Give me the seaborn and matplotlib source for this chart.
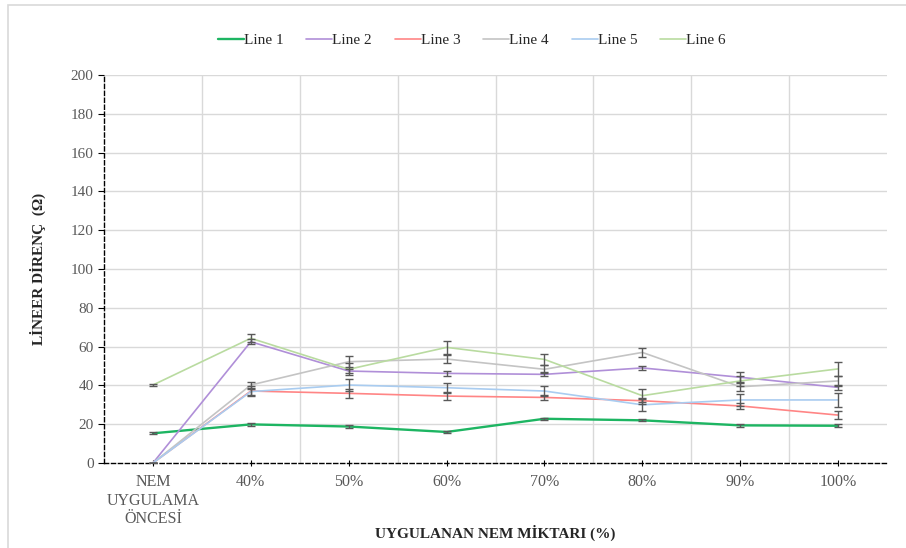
import numpy as np
import pandas as pd
import matplotlib
matplotlib.use('Agg')
import matplotlib.pyplot as plt
import seaborn as sns
from matplotlib.patches import Rectangle

# categories on the x axis
categories = ['NEM\nUYGULAMA\nÖNCESİ', '40%', '50%', '60%', '70%', '80%', '90%', '100%']
series_names = ['Line 1', 'Line 2', 'Line 3', 'Line 4', 'Line 5', 'Line 6']

# mean values
line1 = [15.3, 19.9, 18.8, 16.0, 22.8, 22.0, 19.4, 19.2]
line2 = [0, 62.5, 47.4, 46.2, 45.7, 49.0, 44.2, 39.0]
line3 = [0, 37.1, 35.9, 34.5, 33.8, 32.1, 29.4, 24.7]
line4 = [0, 40.2, 52.2, 53.6, 48.3, 57.0, 39.3, 42.3]
line5 = [0, 36.8, 40.2, 38.8, 37.1, 30.0, 32.5, 32.5]
line6 = [40.2, 64.3, 48.3, 59.6, 53.4, 34.7, 42.3, 48.5]

# error bar half-widths
err1 = [0.5, 0.6, 0.6, 0.6, 0.5, 0.6, 0.7, 0.7]
err2 = [0, 1.2, 1.0, 1.4, 1.0, 1.1, 2.5, 1.3]
err3 = [0, 2.5, 2.5, 2.0, 1.5, 1.5, 1.5, 2.2]
err4 = [0, 1.5, 2.7, 2.2, 2.0, 2.3, 2.0, 2.5]
err5 = [0, 1.5, 3.0, 2.5, 2.5, 3.0, 3.0, 3.4]
err6 = [0.5, 2.0, 3.0, 3.4, 3.0, 3.4, 2.5, 3.8]

means = [line1, line2, line3, line4, line5, line6]
errs = [err1, err2, err3, err4, err5, err6]
colors = ['#1DB562', '#B08FD8', '#FF8585', '#C4C4C4', '#A9CCF0', '#B9DBA0']
widths = [1.7, 1.2, 1.2, 1.2, 1.2, 1.2]

rows = []
for name, vals in zip(series_names, means):
    for i, v in enumerate(vals):
        rows.append({'x': i, 'y': v, 'series': name})
df = pd.DataFrame(rows)

sns.set_style('white')
plt.rcParams['font.family'] = ['Liberation Serif', 'DejaVu Serif']

fig = plt.figure(figsize=(9.06, 5.48), dpi=100)
ax = fig.add_axes([104/906, 1-463/548, (887-104)/906, (463-75)/548])

# light frame around the whole chart
fig.patches.append(Rectangle((8/906, -0.1), 1.2, 1 - 5/548 + 0.1, transform=fig.transFigure,
                             fill=False, edgecolor='#D9D9D9', linewidth=1.2, zorder=-5))

ax.set_xlim(-0.5, 7.5)
ax.set_ylim(0, 200)
ax.set_yticks(np.arange(0, 201, 20))
for y in np.arange(20, 201, 20):
    ax.axhline(y, color='#D9D9D9', linewidth=1, zorder=0)
for x in np.arange(0.5, 7.5, 1):
    ax.axvline(x, color='#D9D9D9', linewidth=1, zorder=0)

sns.lineplot(data=df, x='x', y='y', hue='series', palette=colors, ax=ax, legend=False, zorder=3)
for line, lw in zip(ax.lines[-6:], widths):
    line.set_linewidth(lw)

for vals, e in zip(means, errs):
    ax.errorbar(range(len(categories)), vals, yerr=e, fmt='none', ecolor='#595959',
                elinewidth=1, capsize=3, capthick=1, zorder=4)

ax.set_xticks(range(len(categories)))
ax.set_xticklabels(categories, fontsize=11.5, color='#595959', linespacing=1.22)
ax.tick_params(axis='y', labelsize=11, labelcolor='#595959', length=4, color='black', direction='out', left=True)
ax.tick_params(axis='x', length=4, color='black', direction='inout', bottom=True, pad=6)

for side in ['top', 'right']:
    ax.spines[side].set_visible(False)
for side in ['left', 'bottom']:
    ax.spines[side].set_linestyle((0, (3, 2)))
    ax.spines[side].set_color('black')
    ax.spines[side].set_linewidth(1)

ax.set_ylabel('LİNEER DİRENÇ  (Ω)', fontsize=11, fontweight='bold')
ax.yaxis.set_label_coords(-(104 - 38)/783, 0.5)
ax.set_xlabel('UYGULANAN NEM MİKTARI (%)', fontsize=11, fontweight='bold')
ax.xaxis.set_label_coords(0.5, -(533 - 463)/388)
ax.xaxis.label.set_va('center')
ax.yaxis.label.set_va('center')

handles = [plt.Line2D([], [], color=c, linewidth=lw) for c, lw in zip(colors, widths)]
fig.legend(handles, series_names, loc='center', bbox_to_anchor=(472/906, 1-40/548), ncol=6,
           frameon=False, fontsize=11, handlelength=1.7, handletextpad=0.0, columnspacing=1.5)

fig.savefig('out.png', dpi=100)
